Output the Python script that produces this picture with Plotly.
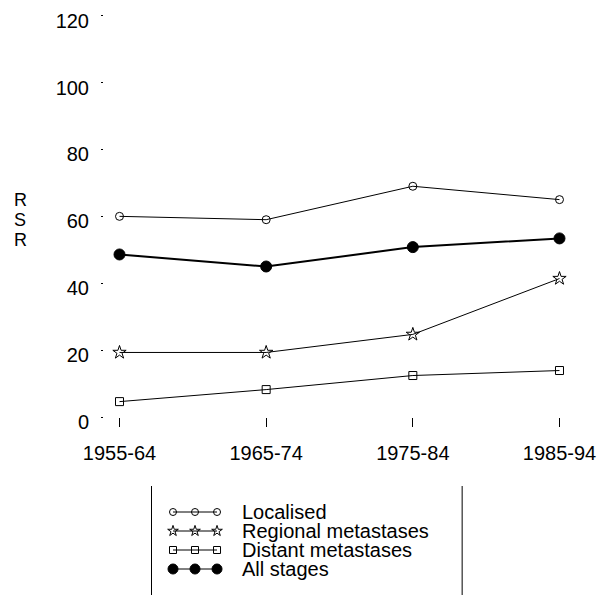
import plotly.graph_objects as go

periods = ["1955-64", "1965-74", "1975-84", "1985-94"]
localised = [60.0, 59.0, 69.0, 65.0]
regional = [19.3, 19.3, 24.7, 41.4]
distant = [4.6, 8.2, 12.4, 13.9]
all_stages = [48.6, 45.0, 50.8, 53.4]
y_ticks = [0, 20, 40, 60, 80, 100, 120]
legend_names = ["Localised", "Regional metastases", "Distant metastases", "All stages"]

W, H = 603, 595
T, B, L, R = 8, 0, 104, 13
PH = H - T - B


def py(p):
    return (H - B - p) / PH


def px(p):
    return (p - L) / (W - L - R)


FONT = "Liberation Sans, Arial, Helvetica, sans-serif"
xi = list(range(len(periods)))

styles = [
    dict(symbol="circle-open", size=8, lsize=7, width=1),
    dict(symbol="star-open", size=10, lsize=8, width=1),
    dict(symbol="square-open", size=8, lsize=7, width=1),
    dict(symbol="circle", size=11, lsize=10, width=2),
]
series = [localised, regional, distant, all_stages]

fig = go.Figure()
for s, st, name in zip(series, styles, legend_names):
    fig.add_trace(go.Scatter(
        x=xi, y=s, mode="lines+markers", name=name, showlegend=False,
        line=dict(color="black", width=st["width"]),
        marker=dict(symbol=st["symbol"], size=st["size"], color="black",
                    line=dict(color="black", width=1)),
        xaxis="x", yaxis="y"))

# legend samples on an auxiliary axis
for row, (st, name) in enumerate(zip(styles, legend_names)):
    fig.add_trace(go.Scatter(
        x=[0, 1, 2], y=[row, row, row], mode="lines+markers", showlegend=False,
        line=dict(color="black", width=1),
        marker=dict(symbol=st["symbol"], size=st["lsize"], color="black",
                    line=dict(color="black", width=1)),
        xaxis="x2", yaxis="y2", hoverinfo="skip"))
    fig.add_annotation(x=3.045, y=row, xref="x2", yref="y2", text=name,
                       showarrow=False, xanchor="left", yanchor="middle",
                       font=dict(family=FONT, size=20, color="black"))

for xv in [-0.977, 13.14]:
    fig.add_shape(type="line", x0=xv, x1=xv, y0=0, y1=1, xref="x2", yref="y2 domain",
                  line=dict(color="black", width=1))

for i, ch in enumerate(["R", "S", "R"]):
    fig.add_annotation(x=px(20), y=py(200 + 20 * i), xref="paper", yref="paper",
                       text=ch, showarrow=False, xanchor="center", yanchor="middle",
                       font=dict(family=FONT, size=18, color="black"))

main_bottom = py(417)
fig.update_layout(
    template="none",
    width=W, height=H,
    margin=dict(l=L, r=R, t=T, b=B, autoexpand=False),
    plot_bgcolor="white", paper_bgcolor="white",
    font=dict(family=FONT, size=20, color="black"),
    xaxis=dict(domain=[0, 1], range=[-0.1057, 3.208], tickvals=xi, ticktext=periods,
               showgrid=False, zeroline=False, showline=False, automargin=False,
               ticks="outside", ticklen=9, tickcolor="black", tickwidth=1,
               ticklabelstandoff=9, anchor="y"),
    yaxis=dict(domain=[main_bottom, 1], range=[0, 122.3], tickvals=y_ticks,
               showgrid=False, zeroline=False, showline=False, automargin=False,
               ticks="outside", ticklen=2, tickcolor="black", tickwidth=1,
               ticklabelstandoff=8, ticklabelshift=5, anchor="x"),
    xaxis2=dict(domain=[0, 1], range=[-3.136, 18.95], visible=False, anchor="y2",
                automargin=False),
    yaxis2=dict(domain=[0, py(486)], range=[4.368, -1.368], visible=False, anchor="x2",
                automargin=False),
    showlegend=False,
)

fig.write_html("out.html")
